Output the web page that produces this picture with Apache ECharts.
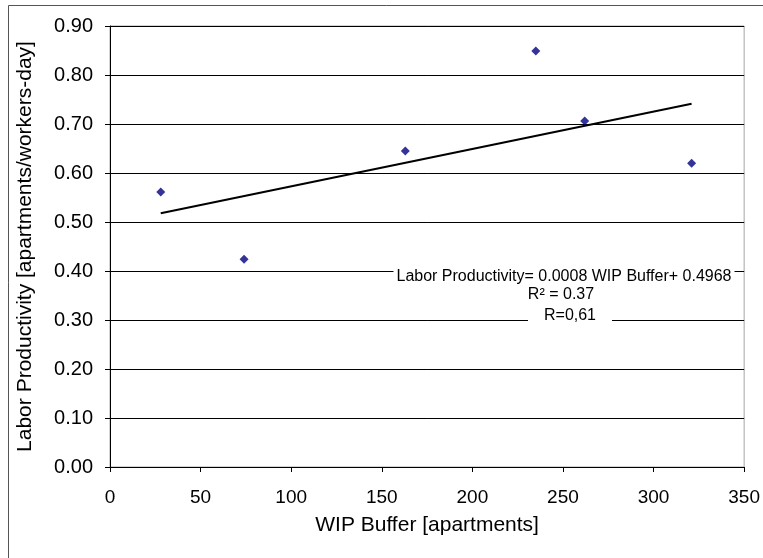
<!DOCTYPE html>
<html>
<head>
<meta charset="utf-8">
<script src="https://cdn.jsdelivr.net/npm/echarts@6/dist/echarts.min.js"></script>
<style>
  html, body { margin: 0; padding: 0; background: #fff; }
  #chart { width: 763px; height: 558px; }
</style>
</head>
<body>
<div id="chart"></div>
<script>
// WIP buffer (apartments) vs labor productivity
var wipBuffer = [28, 74, 163, 235, 262, 321];
var laborProd = [0.561, 0.424, 0.645, 0.849, 0.706, 0.62];
var eqLines = [
  "Labor Productivity= 0.0008 WIP Buffer+ 0.4968",
  "R\u00b2 = 0.37",
  "R=0,61"
];

// least squares fit for the trend line
function fitLine(xs, ys) {
  var n = xs.length, mx = 0, my = 0;
  for (var i = 0; i < n; i++) { mx += xs[i]; my += ys[i]; }
  mx /= n; my /= n;
  var sxy = 0, sxx = 0;
  for (var j = 0; j < n; j++) {
    sxy += (xs[j] - mx) * (ys[j] - my);
    sxx += (xs[j] - mx) * (xs[j] - mx);
  }
  var b = sxy / sxx;
  return { slope: b, intercept: my - b * mx };
}

var fit = fitLine(wipBuffer, laborProd);
var xMin = Math.min.apply(null, wipBuffer);
var xMax = Math.max.apply(null, wipBuffer);
var trend = [
  [xMin, fit.intercept + fit.slope * xMin],
  [xMax, fit.intercept + fit.slope * xMax]
];

var font = "Liberation Sans";
var chart = echarts.init(document.getElementById("chart"));
chart.setOption({
  animation: false,
  backgroundColor: "#fff",
  grid: {
    left: 110, top: 26, right: 17, bottom: 91,
    show: true, borderColor: "#a6a6a6", borderWidth: 1
  },
  xAxis: {
    type: "value",
    min: 0, max: 350, interval: 50,
    name: "WIP Buffer [apartments]",
    nameLocation: "middle",
    nameGap: 48,
    nameTextStyle: { fontFamily: font, fontSize: 21, color: "#000" },
    axisLine: { show: true, lineStyle: { color: "#000", width: 1 } },
    axisTick: { show: true, length: 5, lineStyle: { color: "#000" } },
    axisLabel: { fontFamily: font, fontSize: 19, color: "#000", margin: 21 },
    splitLine: { show: false }
  },
  yAxis: {
    type: "value",
    min: 0, max: 0.9, interval: 0.1,
    name: "Labor Productivity [apartments/workers-day]",
    nameLocation: "middle",
    nameGap: 74,
    nameTextStyle: { fontFamily: font, fontSize: 21, color: "#000" },
    axisLine: { show: true, lineStyle: { color: "#000", width: 1 } },
    axisTick: { show: true, length: 5, lineStyle: { color: "#000" } },
    axisLabel: {
      fontFamily: font, fontSize: 20, color: "#000", margin: 17,
      formatter: function (v) { return v.toFixed(2); }
    },
    splitLine: { show: true, lineStyle: { color: "#000", width: 1 } }
  },
  series: [
    {
      type: "scatter",
      data: wipBuffer.map(function (x, i) { return [x, laborProd[i]]; }),
      symbol: "diamond",
      symbolSize: 9,
      itemStyle: { color: "#00007f" },
      z: 3
    },
    {
      type: "line",
      data: trend,
      symbol: "none",
      lineStyle: { color: "#000", width: 2 },
      z: 2
    }
  ],
  graphic: [
    {
      type: "rect",
      shape: { x: 8.5, y: 5.5, width: 760, height: 560 },
      style: { fill: "none", stroke: "#555", lineWidth: 1 },
      silent: true
    },
    {
      type: "text", x: 564, y: 277, z: 10,
      style: {
        text: eqLines[0], fontFamily: font, fontSize: 16, fill: "#000",
        align: "center", verticalAlign: "middle",
        backgroundColor: "#fff", padding: [0, 3]
      }
    },
    {
      type: "text", x: 561, y: 295, z: 10,
      style: {
        text: eqLines[1], fontFamily: font, fontSize: 16, fill: "#000",
        align: "center", verticalAlign: "middle"
      }
    },
    {
      type: "text", x: 570, y: 316, z: 10,
      style: {
        text: eqLines[2], fontFamily: font, fontSize: 16, fill: "#000",
        align: "center", verticalAlign: "middle",
        backgroundColor: "#fff", padding: [4, 16]
      }
    }
  ]
});
</script>
</body>
</html>
